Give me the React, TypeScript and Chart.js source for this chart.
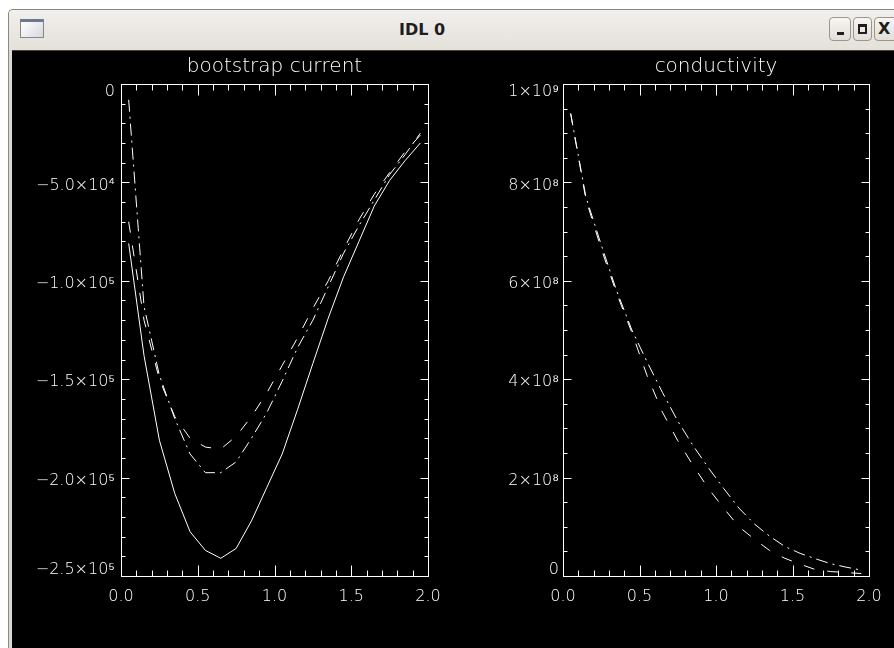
import React, { useEffect, useRef } from 'react';
import { Chart, registerables } from 'chart.js';

Chart.register(...registerables);

// ---------------- data ----------------
const radius = [0.05, 0.15, 0.25, 0.35, 0.45, 0.55, 0.65, 0.75, 0.85, 0.95, 1.05, 1.15, 1.25, 1.35, 1.45, 1.55, 1.65, 1.75, 1.85, 1.95];

const bootstrapSolid = [-81000, -138000, -181000, -208000, -227500, -237000, -241000, -236000, -222000, -205000, -188000, -165500, -142000, -119000, -98000, -80000, -62000, -49000, -39000, -30000];
const bootstrapDashed = [-70000, -120000, -150000, -169000, -180000, -184500, -185500, -179000, -169000, -157000, -143000, -129000, -114000, -100000, -84000, -69000, -56000, -45000, -34500, -26000];
const bootstrapDashDot = [-8000, -113000, -148000, -170000, -188000, -197500, -197500, -192000, -180000, -167000, -151000, -134000, -120000, -103000, -86000, -72000, -59000, -46000, -36000, -25000];

const conductivityDashed = [9.4e8, 7.65e8, 6.65e8, 5.75e8, 4.95e8, 4.07e8, 3.33e8, 2.75e8, 2.25e8, 1.78e8, 1.38e8, 1.0e8, 7.5e7, 5.2e7, 3.6e7, 2.4e7, 1.3e7, 9e6, 7e6, 5e6];
const conductivityDashDot = [9.4e8, 7.7e8, 6.73e8, 5.8e8, 5.0e8, 4.35e8, 3.73e8, 3.15e8, 2.65e8, 2.2e8, 1.78e8, 1.38e8, 1.06e8, 8.1e7, 6.0e7, 4.6e7, 3.5e7, 2.5e7, 1.8e7, 1.2e7];

const xTickValues = [0, 0.5, 1, 1.5, 2];
const xTickLabels = ['0.0', '0.5', '1.0', '1.5', '2.0'];
const bootstrapTickValues = [0, -50000, -100000, -150000, -200000, -250000];
const bootstrapTickLabels = ['0', '\u22125.0\u00d710\u2074', '\u22121.0\u00d710\u2075', '\u22121.5\u00d710\u2075', '\u22122.0\u00d710\u2075', '\u22122.5\u00d710\u2075'];
const conductivityTickValues = [0, 2e8, 4e8, 6e8, 8e8, 1e9];
const conductivityTickLabels = ['0', '2\u00d710\u2078', '4\u00d710\u2078', '6\u00d710\u2078', '8\u00d710\u2078', '1\u00d710\u2079'];

// ---------------- styles ----------------
const FONT_FAMILY = '"DejaVu Sans", "Liberation Sans", sans-serif';
const LABEL_FONT = `200 16px ${FONT_FAMILY}`;
const SOLID: number[] = [];
const DASHED = [11, 13];
const DASH_DOT = [12, 5, 2, 5];

function subdivide(values: number[], parts: number) {
  const sorted = [...values].sort((a, b) => a - b);
  const out: { v: number; major: boolean }[] = [];
  for (let i = 0; i < sorted.length; i++) {
    out.push({ v: sorted[i], major: true });
    if (i < sorted.length - 1) {
      for (let k = 1; k < parts; k++) {
        out.push({ v: sorted[i] + ((sorted[i + 1] - sorted[i]) * k) / parts, major: false });
      }
    }
  }
  return out;
}

function idlAxesPlugin(opts: any) {
  return {
    id: 'idlAxes',
    afterDatasetsDraw(chart: any) {
      const { ctx, chartArea: a } = chart;
      const xs = chart.scales.x;
      const ys = chart.scales.y;
      ctx.save();
      ctx.strokeStyle = '#ffffff';
      ctx.fillStyle = '#ffffff';
      ctx.lineWidth = 1;
      ctx.setLineDash([]);
      ctx.strokeRect(a.left + 0.5, a.top + 0.5, a.right - a.left, a.bottom - a.top);
      ctx.beginPath();
      for (const t of subdivide(opts.xValues, opts.xMinor)) {
        const px = Math.round(xs.getPixelForValue(t.v)) + 0.5;
        const len = t.major ? 11 : 6;
        ctx.moveTo(px, a.bottom + 0.5);
        ctx.lineTo(px, a.bottom + 0.5 - len);
        ctx.moveTo(px, a.top + 0.5);
        ctx.lineTo(px, a.top + 0.5 + len);
      }
      for (const t of subdivide(opts.yValues, opts.yMinor)) {
        const py = Math.round(ys.getPixelForValue(t.v)) + 0.5;
        const len = t.major ? 8 : 4;
        ctx.moveTo(a.left + 0.5, py);
        ctx.lineTo(a.left + 0.5 + len, py);
        ctx.moveTo(a.right + 0.5, py);
        ctx.lineTo(a.right + 0.5 - len, py);
      }
      ctx.stroke();
      ctx.font = LABEL_FONT;
      ctx.textBaseline = 'middle';
      ctx.textAlign = 'center';
      opts.xValues.forEach((v: number, i: number) => {
        ctx.fillText(opts.xLabels[i], xs.getPixelForValue(v), a.bottom + 21);
      });
      ctx.textAlign = 'right';
      opts.yValues.forEach((v: number, i: number) => {
        const py = Math.min(Math.max(ys.getPixelForValue(v) + 3, a.top + 8), a.bottom - 6);
        ctx.fillText(opts.yLabels[i], a.left - opts.yLabelGap, py);
      });
      ctx.restore();
    },
  };
}

type Series = { values: number[]; dash: number[] };

function IdlPlot(props: {
  left: number; top: number; width: number; height: number;
  padding: { left: number; right: number; top: number; bottom: number };
  title: string; series: Series[]; yMin: number; yMax: number;
  yValues: number[]; yLabels: string[]; yMinor: number; yLabelGap: number;
}) {
  const ref = useRef<HTMLCanvasElement>(null);
  useEffect(() => {
    const chart = new Chart(ref.current as HTMLCanvasElement, {
      type: 'line',
      data: {
        datasets: props.series.map((s) => ({
          data: radius.map((x, i) => ({ x, y: s.values[i] })),
          borderColor: '#ffffff',
          borderWidth: 1,
          borderDash: s.dash,
          pointRadius: 0,
          tension: 0,
          fill: false,
        })),
      },
      options: {
        animation: false,
        responsive: false,
        events: [],
        layout: { padding: props.padding },
        plugins: {
          legend: { display: false },
          tooltip: { enabled: false },
          title: {
            display: true,
            text: props.title,
            color: '#ffffff',
            font: { family: FONT_FAMILY, size: 20, weight: '200' as any },
            padding: { top: 4, bottom: 5 },
          },
        },
        scales: {
          x: { type: 'linear', min: 0, max: 2, display: false },
          y: { type: 'linear', min: props.yMin, max: props.yMax, display: false },
        },
      } as any,
      plugins: [
        idlAxesPlugin({
          xValues: xTickValues, xLabels: xTickLabels, xMinor: 5,
          yValues: props.yValues, yLabels: props.yLabels, yMinor: props.yMinor,
          yLabelGap: props.yLabelGap,
        }),
      ],
    });
    return () => chart.destroy();
  }, []);
  return (
    <canvas
      ref={ref}
      width={props.width}
      height={props.height}
      style={{ position: 'absolute', left: props.left, top: props.top, width: props.width, height: props.height }}
    />
  );
}

const btn: React.CSSProperties = {
  position: 'absolute', top: 17, height: 24, border: '1px solid #9b958d', borderRadius: 4,
  background: 'linear-gradient(#f7f6f3, #e2ded8)', boxSizing: 'border-box',
};

export default function App() {
  return (
    <div style={{ position: 'absolute', left: 0, top: 0, width: 894, height: 648, background: '#ffffff', overflow: 'hidden' }}>
      {/* window frame */}
      <div style={{ position: 'absolute', left: 8, top: 9, width: 900, height: 660, background: '#dcd8d2', borderLeft: '1px solid #8c8781', borderTop: '1px solid #8c8781', borderTopLeftRadius: 5 }} />
      <div style={{ position: 'absolute', left: 9, top: 10, width: 890, height: 40, background: 'linear-gradient(#f2f0ec, #e4e0da)', borderTopLeftRadius: 4 }} />
      {/* window icon */}
      <div style={{ position: 'absolute', left: 20, top: 19, width: 24, height: 19, boxSizing: 'border-box', border: '1px solid #868686', borderTop: '3px solid #6c7890', background: 'linear-gradient(135deg, #ffffff, #d6d9de)' }} />
      {/* title */}
      <div style={{ position: 'absolute', left: 322, top: 19, width: 200, height: 22, lineHeight: '22px', textAlign: 'center', fontFamily: FONT_FAMILY, fontWeight: 'bold', fontSize: 16, color: '#1e1e1e' }}>IDL 0</div>
      {/* buttons */}
      <div style={{ ...btn, left: 829, width: 22 }}>
        <div style={{ position: 'absolute', left: 7, top: 14, width: 7, height: 3, background: '#1e1e1e' }} />
      </div>
      <div style={{ ...btn, left: 853, width: 19 }}>
        <div style={{ position: 'absolute', left: 4, top: 6, width: 9, height: 10, boxSizing: 'border-box', border: '2px solid #1e1e1e', borderTopWidth: 3 }} />
      </div>
      <div style={{ ...btn, left: 874, width: 24 }}>
        <div style={{ position: 'absolute', left: 3, top: 1, fontFamily: FONT_FAMILY, fontWeight: 'bold', fontSize: 16, lineHeight: '20px', color: '#1e1e1e' }}>X</div>
      </div>
      {/* graphics area */}
      <div style={{ position: 'absolute', left: 12, top: 50, width: 882, height: 1, background: '#4a4239' }} />
      <div style={{ position: 'absolute', left: 12, top: 51, width: 882, height: 597, background: '#000000' }} />
      <IdlPlot
        left={12} top={51} width={435} height={597}
        padding={{ left: 109, right: 19, top: 0, bottom: 72 }}
        title="bootstrap current"
        series={[
          { values: bootstrapSolid, dash: SOLID },
          { values: bootstrapDashed, dash: DASHED },
          { values: bootstrapDashDot, dash: DASH_DOT },
        ]}
        yMin={-250000} yMax={0}
        yValues={bootstrapTickValues} yLabels={bootstrapTickLabels} yMinor={5} yLabelGap={6}
      />
      <IdlPlot
        left={447} top={51} width={447} height={597}
        padding={{ left: 116, right: 25, top: 0, bottom: 72 }}
        title="conductivity"
        series={[
          { values: conductivityDashed, dash: DASHED },
          { values: conductivityDashDot, dash: DASH_DOT },
        ]}
        yMin={0} yMax={1e9}
        yValues={conductivityTickValues} yLabels={conductivityTickLabels} yMinor={4} yLabelGap={4}
      />
    </div>
  );
}
